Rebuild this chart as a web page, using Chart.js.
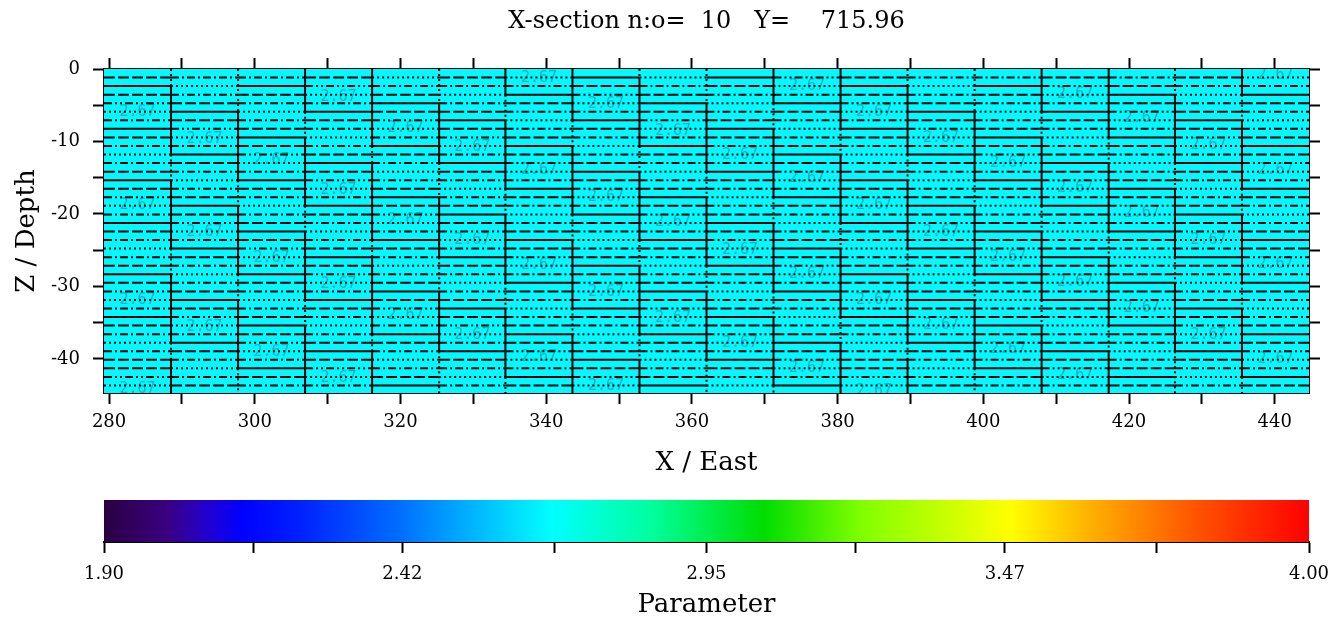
<!DOCTYPE html>
<html>
<head>
<meta charset="utf-8">
<script src="https://cdn.jsdelivr.net/npm/chart.js@4"></script>
<style>
html, body { margin: 0; padding: 0; background: #fff; }
#wrap { position: relative; width: 1342px; height: 622px; }
#seccion { position: absolute; left: 0; top: 0; }
#barra { position: absolute; left: 0; top: 480px; }
</style>
</head>
<body>
<div id="wrap">
  <canvas id="seccion" width="1342" height="480"></canvas>
  <canvas id="barra" width="1342" height="142"></canvas>
</div>
<script>
const tituloSeccion = 'X-section n:o=  10   Y=    715.96';

// bordes de columnas (X / East)
const bordesX = [279.3, 288.5, 297.7, 306.9, 316.1, 325.3, 334.4, 343.6, 352.8, 362.0,
                 371.2, 380.4, 389.6, 398.8, 408.0, 417.2, 426.3, 435.5, 444.7];

// limites de capas (Z / Depth)
const capasZ = [-1.18, -2.36, -3.54, -4.72, -5.90, -7.08, -8.26, -9.44, -10.62, -11.80,
                -12.98, -14.16, -15.34, -16.52, -17.70, -18.88, -20.06, -21.24, -22.42, -23.60,
                -24.78, -25.96, -27.14, -28.32, -29.50, -30.68, -31.86, -33.04, -34.22, -35.40,
                -36.58, -37.76, -38.94, -40.12, -41.30, -42.48, -43.66];
const fondoZ = -44.7;

const valorCelda = 2.67;

// posicion de las etiquetas de valor en cada columna
const etiquetasZ = [
    [-5.9, -18.8, -31.9, -44.2],
    [-9.7, -22.5, -35.6],
    [-12.6, -26.1, -39.0],
    [-3.9, -16.7, -29.7, -42.6],
    [-8.1, -20.9, -33.9],
    [-10.8, -23.6, -36.7],
    [-1.2, -14.0, -27.1, -39.8],
    [-4.8, -17.7, -30.8, -43.7],
    [-8.5, -21.1, -34.3],
    [-11.9, -25.0, -37.8],
    [-2.3, -15.1, -28.3, -41.2],
    [-6.0, -18.8, -31.9, -44.5],
    [-9.6, -22.5, -35.4],
    [-13.0, -26.0, -38.7],
    [-3.4, -16.5, -29.4, -42.3],
    [-6.8, -19.9, -33.0],
    [-10.5, -23.6, -36.7],
    [-0.8, -13.9, -26.9, -40.0]
];

const marcasX = [280, 300, 320, 340, 360, 380, 400, 420, 440];
const marcasMenoresX = [290, 310, 330, 350, 370, 390, 410, 430];
const marcasZ = [0, -10, -20, -30, -40];
const marcasMenoresZ = [-5, -15, -25, -35];

// barra de color
const escalaMin = 1.90;
const escalaMax = 4.00;
const marcasBarra = [1.90, 2.42, 2.95, 3.47, 4.00];
const marcasMenoresBarra = [2.16, 2.685, 3.21, 3.735];
const paradasValor = [1.90, 2.01, 2.08, 2.14, 2.24, 2.42, 2.52, 2.68, 2.85, 3.05, 3.22, 3.48, 3.64, 3.81, 4.00];
const paradasColor = ['#2a0040', '#3a0080', '#2200d0', '#0000ff', '#0020ff', '#0070ff', '#00a8ff',
                      '#00ffff', '#00ffa0', '#00dd00', '#80ff00', '#ffff00', '#ffa500', '#ff5000', '#ff0000'];

const FUENTE = 'DejaVu Serif';
const DASH = { S: [], D: [11, 3], DD: [8, 3, 2, 3], DDD: [8, 3, 2, 3, 2, 3], DT: [2, 3] };
const PATRON = ['S', 'D', 'DDD', 'DT', 'DD', 'S', 'D', 'DD', 'DT', 'DD', 'D'];

const hexRgb = h => [1, 3, 5].map(i => parseInt(h.slice(i, i + 2), 16));
const colorDeValor = v => {
    let i = 1;
    while (i < paradasValor.length - 1 && v > paradasValor[i]) i++;
    const a = paradasValor[i - 1], b = paradasValor[i];
    const t = Math.min(1, Math.max(0, (v - a) / (b - a)));
    const ca = hexRgb(paradasColor[i - 1]), cb = hexRgb(paradasColor[i]);
    return `rgb(${ca.map((c, k) => Math.round(c + (cb[k] - c) * t)).join(',')})`;
};

const zFila = i => i === 0 ? 0 : (i > capasZ.length ? fondoZ : capasZ[i - 1]);
const filaEtiqueta = z => {
    let mejor = 0;
    capasZ.forEach((c, i) => { if (Math.abs(c - z) < Math.abs(capasZ[mejor] - z)) mejor = i; });
    return mejor + 1;
};
const filasEtiq = etiquetasZ.map(lista => lista.map(filaEtiqueta));

const estiloFila = (c, k) => {
    const filas = filasEtiq[c];
    for (const L of filas) {
        const o = k - L;
        if (o >= -3 && o <= 7) return PATRON[o + 3];
    }
    const o = ((k - filas[0] + 3) % 11 + 11) % 11 - 3;
    return PATRON[o + 3];
};
const enBloque = (c, i) => filasEtiq[c].some(L => i >= L - 3 && i + 1 <= L + 2);

const linea = (pts, dash) => ({
    data: pts,
    showLine: true,
    borderColor: '#000',
    borderWidth: 2,
    borderDash: dash,
    borderCapStyle: 'butt',
    pointRadius: 0,
    fill: false
});

const datasets = [{
    data: [{ x: bordesX[0], y: 0 }, { x: bordesX[bordesX.length - 1], y: 0 }],
    showLine: true,
    borderWidth: 0,
    pointRadius: 0,
    fill: 'start',
    backgroundColor: colorDeValor(valorCelda),
    order: 1
}];

// lineas horizontales por columna
for (let c = 0; c < bordesX.length - 1; c++) {
    capasZ.forEach((z, i) => {
        const estilo = estiloFila(c, i + 1);
        datasets.push(linea([{ x: bordesX[c], y: z }, { x: bordesX[c + 1], y: z }], DASH[estilo]));
    });
}

// lineas verticales entre columnas
const nFilas = capasZ.length + 1;
for (let b = 1; b < bordesX.length - 1; b++) {
    let inicio = 0;
    let solido = enBloque(b - 1, 0) || enBloque(b, 0);
    for (let i = 1; i <= nFilas; i++) {
        const s = i < nFilas ? (enBloque(b - 1, i) || enBloque(b, i)) : null;
        if (i === nFilas || s !== solido) {
            datasets.push(linea([{ x: bordesX[b], y: zFila(inicio) }, { x: bordesX[b], y: zFila(i) }],
                solido ? DASH.S : DASH.DT));
            inicio = i;
            solido = s;
        }
    }
}

const pluginEtiquetas = {
    id: 'etiquetas',
    afterDatasetDraw(chart, args) {
        if (args.index !== 0) return;
        const { ctx, chartArea, scales: { x, y } } = chart;
        ctx.save();
        ctx.beginPath();
        ctx.rect(chartArea.left, chartArea.top, chartArea.width, chartArea.height);
        ctx.clip();
        ctx.font = '15px "DejaVu Sans Mono"';
        ctx.fillStyle = 'rgba(30,110,130,0.5)';
        ctx.textAlign = 'center';
        ctx.textBaseline = 'middle';
        etiquetasZ.forEach((lista, c) => {
            const xc = x.getPixelForValue((bordesX[c] + bordesX[c + 1]) / 2);
            lista.forEach(z => ctx.fillText(valorCelda.toFixed(2), xc, y.getPixelForValue(z)));
        });
        ctx.restore();
    }
};

const rejilla = { display: true, drawOnChartArea: false, drawTicks: true, tickLength: 11, tickWidth: 2, tickColor: '#000', color: '#000' };
const borde = { display: true, color: '#000', width: 2 };
const ticksX = s => { s.ticks = [...marcasX, ...marcasMenoresX].sort((a, b) => a - b).map(v => ({ value: v })); };
const ticksZ = s => { s.ticks = [...marcasZ, ...marcasMenoresZ].sort((a, b) => a - b).map(v => ({ value: v })); };

new Chart(document.getElementById('seccion'), {
    type: 'scatter',
    data: { datasets },
    options: {
        responsive: false,
        animation: false,
        events: [],
        layout: { padding: 0 },
        plugins: { legend: { display: false }, tooltip: { enabled: false } },
        scales: {
            x: {
                type: 'linear', position: 'bottom', min: bordesX[0], max: bordesX[bordesX.length - 1],
                afterBuildTicks: ticksX,
                afterFit: s => { s.height = 87; },
                grid: rejilla, border: borde,
                ticks: {
                    autoSkip: false, maxRotation: 0, padding: 8, color: '#000',
                    font: { family: FUENTE, size: 18 },
                    callback: v => marcasX.includes(v) ? String(v) : ''
                },
                title: { display: true, text: 'X / East', color: '#000', font: { family: FUENTE, size: 26, lineHeight: 1.0 } }
            },
            x2: {
                type: 'linear', position: 'top', min: bordesX[0], max: bordesX[bordesX.length - 1],
                afterBuildTicks: ticksX,
                afterFit: s => { s.height = 69; },
                grid: rejilla, border: borde,
                ticks: { display: false },
                title: { display: true, text: tituloSeccion, color: '#000', font: { family: FUENTE, size: 24, lineHeight: 1.5 } }
            },
            y: {
                type: 'linear', position: 'left', min: fondoZ, max: 0,
                afterBuildTicks: ticksZ,
                afterFit: s => { s.width = 104; },
                grid: rejilla, border: borde,
                ticks: {
                    autoSkip: false, padding: 13, color: '#000',
                    font: { family: FUENTE, size: 18 },
                    callback: v => marcasZ.includes(v) ? String(v) : ''
                },
                title: { display: true, text: 'Z / Depth', color: '#000', font: { family: FUENTE, size: 26, lineHeight: 1.8 } }
            },
            y2: {
                type: 'linear', position: 'right', min: fondoZ, max: 0,
                afterBuildTicks: ticksZ,
                afterFit: s => { s.width = 33; },
                grid: rejilla, border: borde,
                ticks: { display: false }
            }
        }
    },
    plugins: [pluginEtiquetas]
});

// barra de color
new Chart(document.getElementById('barra'), {
    type: 'scatter',
    data: {
        datasets: [{
            data: [{ x: escalaMin, y: 1 }, { x: escalaMax, y: 1 }],
            showLine: true,
            borderWidth: 0,
            pointRadius: 0,
            fill: 'start',
            backgroundColor: (context) => {
                const { ctx, chartArea } = context.chart;
                if (!chartArea) return 'transparent';
                const g = ctx.createLinearGradient(chartArea.left, 0, chartArea.right, 0);
                paradasValor.forEach((v, i) => g.addColorStop((v - escalaMin) / (escalaMax - escalaMin), paradasColor[i]));
                return g;
            }
        }]
    },
    options: {
        responsive: false,
        animation: false,
        events: [],
        layout: { padding: { left: 104, right: 33, top: 20, bottom: 0 } },
        plugins: { legend: { display: false }, tooltip: { enabled: false } },
        scales: {
            x: {
                type: 'linear', position: 'bottom', min: escalaMin, max: escalaMax,
                afterBuildTicks: s => { s.ticks = [...marcasBarra, ...marcasMenoresBarra].sort((a, b) => a - b).map(v => ({ value: v })); },
                afterFit: s => { s.height = 80; },
                grid: { display: true, drawOnChartArea: false, drawTicks: true, tickLength: 11, tickWidth: 2, tickColor: '#000', color: '#000' },
                border: borde,
                ticks: {
                    autoSkip: false, maxRotation: 0, padding: 11, color: '#000',
                    font: { family: FUENTE, size: 18 },
                    callback: v => marcasBarra.includes(v) ? v.toFixed(2) : ''
                },
                title: { display: true, text: 'Parameter', color: '#000', font: { family: FUENTE, size: 26, lineHeight: 1.0 } }
            },
            y: { display: false, min: 0, max: 1 }
        }
    }
});
</script>
</body>
</html>
